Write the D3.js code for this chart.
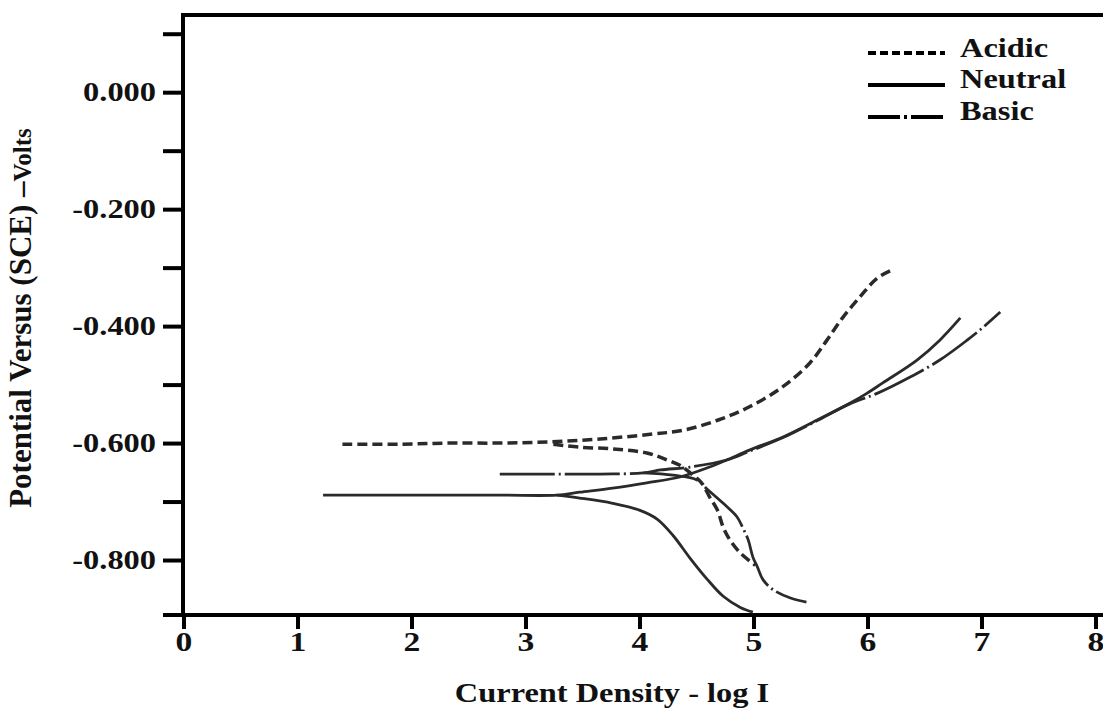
<!DOCTYPE html>
<html>
<head>
<meta charset="utf-8">
<script src="https://cdnjs.cloudflare.com/ajax/libs/d3/7.8.5/d3.min.js"></script>
<style>
  body { margin: 0; background: #fff; }
  text { font-family: "Liberation Serif", "Times New Roman", serif; font-weight: bold; fill: #111; }
</style>
</head>
<body>
<div id="chart"></div>
<script>
// Data: [log I, potential (V vs SCE)]
var xTicks = [0, 1, 2, 3, 4, 5, 6, 7, 8];
var yTicks = [0.1, 0, -0.1, -0.2, -0.3, -0.4, -0.5, -0.6, -0.7, -0.8];
var yTickLabels = ["", "0.000", "", "-0.200", "", "-0.400", "", "-0.600", "", "-0.800"];

var acidicAnodic = [[1.39, -0.602], [1.89, -0.602], [2.33, -0.600], [2.77, -0.600], [3.21, -0.598],
  [3.65, -0.593], [4.09, -0.585], [4.38, -0.578], [4.68, -0.561], [4.96, -0.538], [5.25, -0.504],
  [5.49, -0.463], [5.64, -0.424], [5.78, -0.385], [5.93, -0.350], [6.08, -0.318], [6.21, -0.304]];
var acidicCathodic = [[3.24, -0.602], [3.47, -0.607], [3.76, -0.610], [4.06, -0.617], [4.24, -0.629],
  [4.35, -0.638], [4.44, -0.651], [4.54, -0.668], [4.61, -0.692], [4.68, -0.715], [4.73, -0.744],
  [4.79, -0.766], [4.88, -0.788], [5.01, -0.809]];

var neutralAnodic = [[1.22, -0.689], [1.89, -0.689], [2.77, -0.689], [3.27, -0.689], [3.47, -0.684],
  [3.76, -0.677], [4.06, -0.668], [4.35, -0.658], [4.61, -0.641], [4.76, -0.629], [4.96, -0.612],
  [5.25, -0.590], [5.55, -0.561], [5.84, -0.532], [5.99, -0.515], [6.13, -0.497], [6.43, -0.458],
  [6.63, -0.424], [6.81, -0.386]];
var neutralCathodic = [[3.27, -0.689], [3.47, -0.694], [3.76, -0.703], [4.00, -0.715], [4.15, -0.730],
  [4.29, -0.758], [4.44, -0.797], [4.59, -0.833], [4.73, -0.862], [4.88, -0.881], [4.99, -0.889]];

var basicAnodic = [[2.77, -0.653], [3.21, -0.653], [3.65, -0.653], [4.03, -0.651], [4.18, -0.646],
  [4.44, -0.641], [4.76, -0.629], [4.96, -0.614], [5.25, -0.591], [5.55, -0.562], [5.84, -0.533],
  [6.08, -0.515], [6.37, -0.487], [6.63, -0.458], [6.87, -0.424], [7.01, -0.402], [7.16, -0.376]];
var basicCathodic = [[4.03, -0.651], [4.29, -0.655], [4.50, -0.663], [4.59, -0.679], [4.73, -0.703],
  [4.85, -0.726], [4.90, -0.744], [4.95, -0.766], [4.99, -0.795], [5.03, -0.812], [5.08, -0.834],
  [5.17, -0.851], [5.32, -0.865], [5.46, -0.872]];

var legendNames = ["Acidic", "Neutral", "Basic"];

function setUpChart() {
  var svgWidth = 1103;
  var svgHeight = 727;
  var ink = "#2a2a2a";
  var stretch = 1.2;   // the lettering in the picture is drawn wide

  var svg = d3.select("#chart")
    .append("svg")
    .attr("width", svgWidth)
    .attr("height", svgHeight);

  var xScale = d3.scaleLinear().domain([0, 8]).range([184, 1096]);
  var yScale = d3.scaleLinear().domain([-0.894, 0.132]).range([615, 15]);

  // wide text helper
  function wideText(g, x, y, str, size, anchor) {
    return g.append("text")
      .attr("transform", `translate(${x},${y}) scale(${stretch},1)`)
      .attr("text-anchor", anchor)
      .attr("font-size", size)
      .text(str);
  }

  // frame: top and left
  svg.append("line").attr("x1", 183).attr("x2", svgWidth).attr("y1", 15).attr("y2", 15)
    .attr("stroke", "#000").attr("stroke-width", 4);

  // left axis
  var leftAxis = d3.axisLeft(yScale).tickValues(yTicks).tickSize(20).tickFormat("");
  var leftG = svg.append("g").attr("transform", "translate(183,0)").call(leftAxis);
  leftG.select(".domain").attr("stroke", "#000").attr("stroke-width", 4).attr("d", "M0,13V615");
  leftG.selectAll(".tick line").attr("stroke", "#000").attr("stroke-width", 4);

  yTicks.forEach(function(v, i) {
    if (yTickLabels[i]) wideText(svg, 156, yScale(v) + 9, yTickLabels[i], 27, "end");
  });

  // bottom axis
  var bottomAxis = d3.axisBottom(xScale).tickValues(xTicks).tickSize(0).tickFormat("");
  var bottomG = svg.append("g").attr("transform", "translate(0,615)").call(bottomAxis);
  bottomG.select(".domain").attr("stroke", "#000").attr("stroke-width", 4).attr("d", "M163,0H" + svgWidth);
  bottomG.selectAll(".tick line").remove();
  xTicks.forEach(function(t) {
    svg.append("line").attr("x1", xScale(t)).attr("x2", xScale(t)).attr("y1", 615).attr("y2", 629)
      .attr("stroke", "#000").attr("stroke-width", 4);
    wideText(svg, xScale(t), 651, String(t), 28, "middle");
  });

  // axis titles
  wideText(svg, 612, 702, "Current Density - log I", 27, "middle");
  var yTitle = svg.append("text")
    .attr("transform", "translate(31,318) rotate(-90)")
    .attr("text-anchor", "middle")
    .attr("font-size", 31);
  yTitle.append("tspan").text("Potential Versus (SCE) \u2013");
  yTitle.append("tspan").attr("font-size", 25).text("Volts");

  // curves
  var line = d3.line()
    .x(d => xScale(d[0]))
    .y(d => yScale(d[1]))
    .curve(d3.curveCatmullRom.alpha(0.5));

  var series = [
    { data: acidicAnodic, dash: "10,5", width: 3.5 },
    { data: acidicCathodic, dash: "10,5", width: 3.5 },
    { data: neutralAnodic, dash: null, width: 2.8 },
    { data: neutralCathodic, dash: null, width: 2.8 },
    { data: basicAnodic, dash: "55,4,2,4", width: 2.8 },
    { data: basicCathodic, dash: "55,4,2,4", width: 2.8 }
  ];

  svg.selectAll("path.curve")
    .data(series)
    .enter()
    .append("path")
    .attr("class", "curve")
    .attr("d", d => line(d.data))
    .attr("fill", "none")
    .attr("stroke", ink)
    .attr("stroke-width", d => d.width)
    .attr("stroke-dasharray", d => d.dash);

  // legend
  var legendDash = ["8,4", null, "32,4,3,4"];
  legendNames.forEach(function(name, i) {
    var ly = 53 + i * 32;
    svg.append("line")
      .attr("x1", 868).attr("x2", 945).attr("y1", ly).attr("y2", ly)
      .attr("stroke", "#000").attr("stroke-width", 4)
      .attr("stroke-dasharray", legendDash[i]);
    wideText(svg, 960, ly + 4 - (i == 0 ? 0 : 1), name, 27, "start");
  });
}

setUpChart();
</script>
</body>
</html>
